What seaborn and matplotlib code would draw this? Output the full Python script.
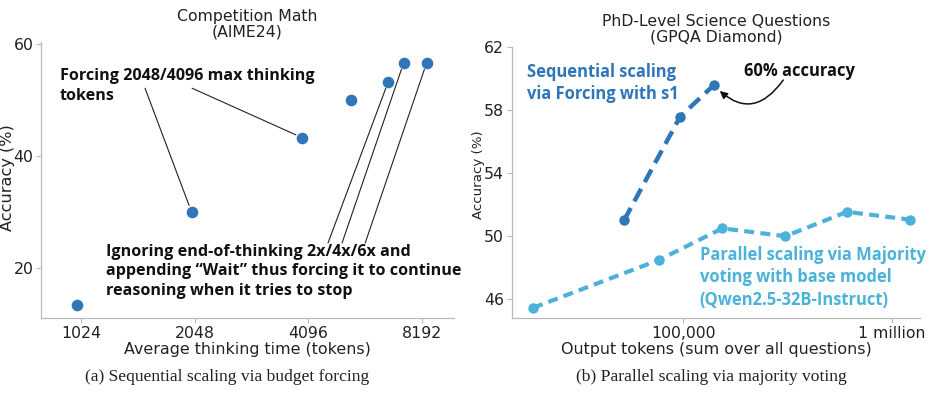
import numpy as np
import matplotlib
matplotlib.use("Agg")
import matplotlib.pyplot as plt
from matplotlib import font_manager
import seaborn as sns

# ── data ────────────────────────────────────────────────────────────
# (a) budget forcing on AIME24
aime_tokens = [1000, 2007, 3940, 5320, 6660, 7320, 8420]
aime_acc = [13.3, 30.0, 43.3, 50.0, 53.3, 56.7, 56.7]
aime_xticks = [1024, 2048, 4096, 8192]

# (b) GPQA Diamond
seq_tokens = [51900, 96500, 140000]
seq_acc = [51.0, 57.6, 59.6]
par_tokens = [19000, 76700, 154000, 309000, 611000, 1230000]
par_acc = [45.45, 48.5, 50.5, 50.0, 51.55, 51.05]
gpqa_xticks = [100000, 1000000]
gpqa_xticklabels = ["100,000", "1 million"]
gpqa_yticks = [46, 50, 54, 58, 62]

dark_blue = "#2f76b8"
light_blue = "#4cb2d9"
spine_gray = "#b8b8b8"


def bold_family(prefs):
    # first preferred family that really has a bold face installed
    have = set()
    for f in font_manager.fontManager.ttflist:
        w = f.weight
        if isinstance(w, str):
            w = font_manager.weight_dict.get(w, 400)
        if w >= 600:
            have.add(f.name)
    for p in prefs:
        if p in have:
            return p
    return "DejaVu Sans"


sns.set_theme(style="ticks")
plt.rcParams["font.family"] = ["DejaVu Sans"]
note_font = [bold_family(["Noto Sans", "Open Sans", "Lato", "Roboto"]),
             "DejaVu Sans"]

fig = plt.figure(figsize=(9.48, 3.98), dpi=100)
ax1 = fig.add_axes([0.0432, 0.201, 0.4357, 0.693])
ax2 = fig.add_axes([0.5398, 0.201, 0.4307, 0.6817])

# ── (a) ─────────────────────────────────────────────────────────────
ax1.set_xscale("log", base=2)
sns.scatterplot(x=aime_tokens, y=aime_acc, ax=ax1, s=70, color=dark_blue,
                linewidth=0, zorder=3)
ax1.set_xlim(801, 9950)
ax1.set_ylim(11.0, 60.4)
ax1.set_xticks(aime_xticks)
ax1.set_xticklabels([str(t) for t in aime_xticks])
ax1.set_yticks([20, 40, 60])
ax1.minorticks_off()
ax1.set_title("Competition Math\n(AIME24)", fontsize=11.3, pad=4,
              color="#222222", linespacing=1.05)
ax1.set_xlabel("Average thinking time (tokens)", fontsize=11.4, labelpad=1)
ax1.set_ylabel("Accuracy (%)", fontsize=11.6)
ax1.yaxis.set_label_coords(-0.064, 0.509)

ax1.text(0.046, 0.905, "Forcing 2048/4096 max thinking\ntokens",
         transform=ax1.transAxes, ha="left", va="top", fontsize=11.6,
         fontweight="bold", family=note_font, linespacing=1.3, color="#111111")
ax1.text(0.157, 0.27,
         "Ignoring end-of-thinking 2x/4x/6x and\n"
         "appending \u201cWait\u201d thus forcing it to continue\n"
         "reasoning when it tries to stop",
         transform=ax1.transAxes, ha="left", va="top", fontsize=11.6,
         fontweight="bold", family=note_font, linespacing=1.3, color="#111111")

line_kw = dict(arrowstyle="-", color="#222222", lw=0.8, shrinkA=0, shrinkB=5)
for start, idx in [((0.252, 0.833), 1), ((0.366, 0.833), 2)]:
    ax1.annotate("", xy=(aime_tokens[idx], aime_acc[idx]), xycoords="data",
                 xytext=start, textcoords="axes fraction", arrowprops=line_kw)
for start, idx in [((0.695, 0.272), 4), ((0.729, 0.272), 5), ((0.785, 0.272), 6)]:
    ax1.annotate("", xy=(aime_tokens[idx], aime_acc[idx]), xycoords="data",
                 xytext=start, textcoords="axes fraction", arrowprops=line_kw)

# ── (b) ─────────────────────────────────────────────────────────────
ax2.set_xscale("log")
sns.lineplot(x=par_tokens, y=par_acc, ax=ax2, color=light_blue, lw=3.0,
             linestyle=(0, (2.4, 1.5)), marker="o", markersize=7.5,
             markeredgewidth=0, zorder=2)
sns.lineplot(x=seq_tokens, y=seq_acc, ax=ax2, color=dark_blue, lw=3.2,
             linestyle=(0, (3.2, 1.7)), marker="o", markersize=7.5,
             markeredgewidth=0, zorder=3)
ax2.set_xlim(15000, 1370000)
ax2.set_ylim(44.8, 62.05)
ax2.set_xticks(gpqa_xticks)
ax2.set_xticklabels(gpqa_xticklabels)
ax2.set_yticks(gpqa_yticks)
ax2.minorticks_off()
ax2.set_title("PhD-Level Science Questions\n(GPQA Diamond)", fontsize=11.3,
              pad=4, color="#222222", linespacing=1.05)
ax2.set_xlabel("Output tokens (sum over all questions)", fontsize=11.4,
               labelpad=1)
ax2.set_ylabel("Accuracy (%)", fontsize=9.6)
ax2.yaxis.set_label_coords(-0.066, 0.53)

ax2.text(0.037, 0.94, "Sequential scaling\nvia Forcing with s1",
         transform=ax2.transAxes, ha="left", va="top", fontsize=11.9,
         fontweight="bold", family=note_font, linespacing=1.3, color=dark_blue)
ax2.text(0.46, 0.265,
         "Parallel scaling via Majority\nvoting with base model\n"
         "(Qwen2.5-32B-Instruct)",
         transform=ax2.transAxes, ha="left", va="top", fontsize=11.9,
         fontweight="bold", family=note_font, linespacing=1.3, color=light_blue)
ax2.annotate("60% accuracy", xy=(seq_tokens[-1], seq_acc[-1]), xycoords="data",
             xytext=(0.569, 0.945), textcoords="axes fraction",
             ha="left", va="top", fontsize=11.9, fontweight="bold",
             family=note_font, color="#111111")
ax2.annotate("", xy=(seq_tokens[-1], seq_acc[-1]), xycoords="data",
             xytext=(0.665, 0.877), textcoords="axes fraction",
             arrowprops=dict(arrowstyle="-|>", color="#111111", lw=1.1,
                             shrinkA=0, shrinkB=6, mutation_scale=11,
                             connectionstyle="arc3,rad=-0.6"))

for ax in (ax1, ax2):
    sns.despine(ax=ax)
    for side in ("left", "bottom"):
        ax.spines[side].set_color(spine_gray)
        ax.spines[side].set_linewidth(0.9)
    ax.tick_params(axis="both", labelsize=11.3, length=3.5, width=0.8,
                   color=spine_gray, labelcolor="#222222", pad=2)
    ax.xaxis.label.set_color("#222222")
    ax.yaxis.label.set_color("#222222")

fig.text(0.24, 0.053, "(a) Sequential scaling via budget forcing",
         ha="center", va="center", fontsize=12.6, family="Liberation Serif",
         color="#222222")
fig.text(0.75, 0.053, "(b) Parallel scaling via majority voting",
         ha="center", va="center", fontsize=12.6, family="Liberation Serif",
         color="#222222")

fig.savefig("out.png", dpi=100)
